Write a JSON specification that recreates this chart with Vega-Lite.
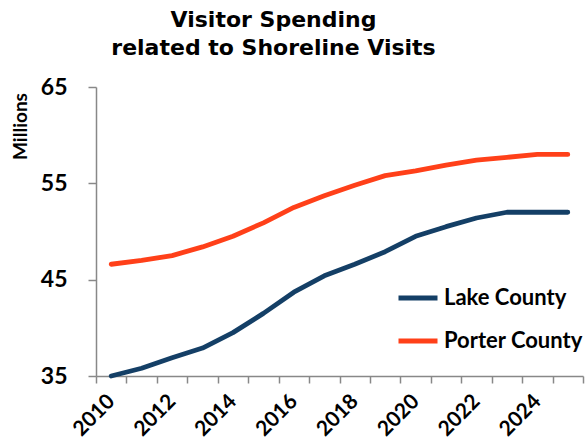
{
  "$schema": "https://vega.github.io/schema/vega-lite/v6.json",
  "autosize": "none",
  "width": 487,
  "height": 289,
  "padding": {"left": 96, "top": 87, "right": 4, "bottom": 66},
  "background": "white",
  "title": {
    "text": ["Visitor Spending", "related to Shoreline Visits"],
    "font": "DejaVu Sans",
    "fontWeight": "bold",
    "fontSize": 22,
    "lineHeight": 28,
    "color": "black",
    "anchor": "middle",
    "frame": "group",
    "dx": -66,
    "offset": 16
  },
  "config": {
    "view": {"stroke": null},
    "axis": {
      "domainColor": "#888888",
      "tickColor": "#888888",
      "domainWidth": 1.5,
      "tickWidth": 1.5,
      "grid": false,
      "labelFont": "Lato",
      "labelFontWeight": "bold",
      "labelColor": "black"
    }
  },
  "data": {
    "values": [
      {"year": 2010, "county": "Lake County", "value": 35.0},
      {"year": 2011, "county": "Lake County", "value": 35.8},
      {"year": 2012, "county": "Lake County", "value": 36.9},
      {"year": 2013, "county": "Lake County", "value": 37.9},
      {"year": 2014, "county": "Lake County", "value": 39.5},
      {"year": 2015, "county": "Lake County", "value": 41.5},
      {"year": 2016, "county": "Lake County", "value": 43.7},
      {"year": 2017, "county": "Lake County", "value": 45.4},
      {"year": 2018, "county": "Lake County", "value": 46.6},
      {"year": 2019, "county": "Lake County", "value": 47.9},
      {"year": 2020, "county": "Lake County", "value": 49.5},
      {"year": 2021, "county": "Lake County", "value": 50.5},
      {"year": 2022, "county": "Lake County", "value": 51.4},
      {"year": 2023, "county": "Lake County", "value": 52.0},
      {"year": 2024, "county": "Lake County", "value": 52.0},
      {"year": 2025, "county": "Lake County", "value": 52.0},
      {"year": 2010, "county": "Porter County", "value": 46.6},
      {"year": 2011, "county": "Porter County", "value": 47.0},
      {"year": 2012, "county": "Porter County", "value": 47.5},
      {"year": 2013, "county": "Porter County", "value": 48.4},
      {"year": 2014, "county": "Porter County", "value": 49.5},
      {"year": 2015, "county": "Porter County", "value": 50.9},
      {"year": 2016, "county": "Porter County", "value": 52.5},
      {"year": 2017, "county": "Porter County", "value": 53.7},
      {"year": 2018, "county": "Porter County", "value": 54.8},
      {"year": 2019, "county": "Porter County", "value": 55.8},
      {"year": 2020, "county": "Porter County", "value": 56.3},
      {"year": 2021, "county": "Porter County", "value": 56.9},
      {"year": 2022, "county": "Porter County", "value": 57.4},
      {"year": 2023, "county": "Porter County", "value": 57.7},
      {"year": 2024, "county": "Porter County", "value": 58.0},
      {"year": 2025, "county": "Porter County", "value": 58.0}
    ]
  },
  "mark": {"type": "line", "strokeWidth": 4.8, "strokeCap": "round", "strokeJoin": "round"},
  "encoding": {
    "x": {
      "field": "year",
      "type": "ordinal",
      "scale": {"type": "band", "paddingInner": 0, "paddingOuter": 0},
      "axis": {
        "title": null,
        "tickBand": "extent",
        "tickSize": 7,
        "labelAngle": -45,
        "labelAlign": "right",
        "labelBaseline": "middle",
        "labelFontSize": 21,
        "labelPadding": 15,
        "labelOverlap": false,
        "labelExpr": "datum.value % 2 === 0 ? datum.label : ''"
      }
    },
    "y": {
      "field": "value",
      "type": "quantitative",
      "scale": {"domain": [35, 65], "nice": false, "zero": false},
      "axis": {
        "values": [35, 45, 55, 65],
        "title": "Millions",
        "titleFont": "Lato",
        "titleFontWeight": "bold",
        "titleFontSize": 19,
        "titleColor": "black",
        "titleAngle": -90,
        "titleX": -76,
        "titleY": 39,
        "titleAlign": "center",
        "titleBaseline": "middle",
        "titleLimit": 200,
        "tickSize": 8,
        "labelFontSize": 23,
        "labelPadding": 21
      }
    },
    "color": {
      "field": "county",
      "type": "nominal",
      "scale": {"domain": ["Lake County", "Porter County"], "range": ["#143F66", "#FF4019"]},
      "legend": {
        "title": null,
        "orient": "none",
        "legendX": 300,
        "legendY": 189,
        "padding": 0,
        "symbolType": "stroke",
        "symbolSize": 1521,
        "symbolStrokeWidth": 5,
        "labelFont": "Lato",
        "labelFontWeight": "bold",
        "labelFontSize": 22,
        "labelColor": "black",
        "labelOffset": 4,
        "rowPadding": 10
      }
    }
  }
}
